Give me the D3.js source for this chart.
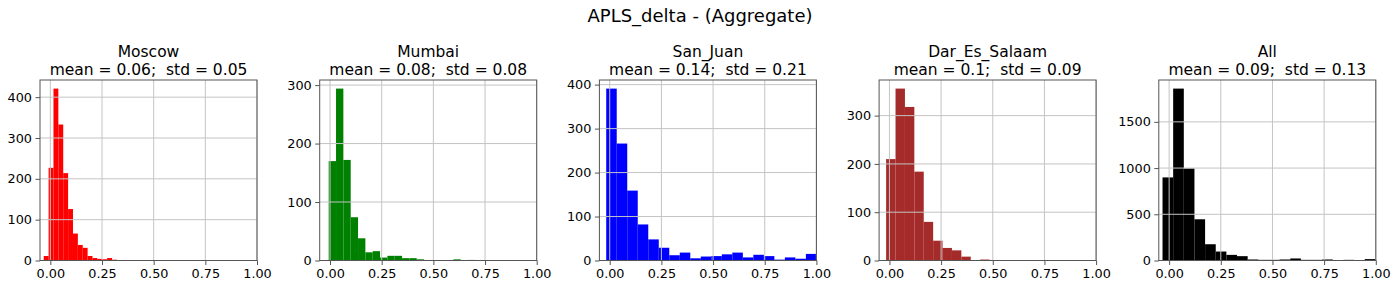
<!DOCTYPE html>
<html>
<head>
<meta charset="utf-8">
<script src="https://cdn.jsdelivr.net/npm/d3@7"></script>
<style>
  html, body { margin: 0; padding: 0; background: #fff; }
  svg { display: block; font-family: "DejaVu Sans", sans-serif; }
</style>
</head>
<body>
<script>
// ---------------- data ----------------
const suptitle = "APLS_delta - (Aggregate)";
const cities = ["Moscow", "Mumbai", "San_Juan", "Dar_Es_Salaam", "All"];
const means = ["0.06", "0.08", "0.14", "0.1", "0.09"];
const stds  = ["0.05", "0.08", "0.21", "0.09", "0.13"];

// histogram bins: first edge and bin width (20 bins each)
const binStart = [-0.032, -0.0065, -0.017, -0.016, -0.032];
const binWidth = [0.0236, 0.0355, 0.05085, 0.0455, 0.0515];

const countsMoscow = [11, 227, 421, 333, 214, 126, 66, 38, 31, 11, 6, 4, 3, 6, 2, 0, 1, 0, 0, 1];
const countsMumbai = [170, 294, 172, 74, 38, 14, 16, 5, 8, 8, 4, 4, 2, 0, 0, 0, 0, 2, 0, 1];
const countsSanJuan = [391, 266, 159, 82, 48, 29, 12, 18, 5, 9, 10, 14, 18, 7, 13, 10, 2, 7, 4, 15];
const countsDar = [210, 356, 318, 184, 80, 41, 26, 21, 8, 1, 2, 0, 0, 1, 0, 0, 0, 0, 1, 1];
const countsAll = [899, 1860, 996, 446, 176, 97, 61, 47, 11, 7, 7, 11, 22, 7, 7, 11, 3, 7, 4, 15];
const counts = [countsMoscow, countsMumbai, countsSanJuan, countsDar, countsAll];

const xTicks = [0, 0.25, 0.5, 0.75, 1.0];
const xDomain = [-0.05, 1.0];
const yTicks = [
  [0, 100, 200, 300, 400],
  [0, 100, 200, 300],
  [0, 100, 200, 300, 400],
  [0, 100, 200, 300],
  [0, 500, 1000, 1500]
];

// ---------------- style ----------------
const colors = ["#ff0000", "#008000", "#0000ff", "#a52a2a", "#000000"];
const W = 1400, H = 286;
const axLeft0 = 40, axStep = 279.7, axW = 217, axTop = 80, axBottom = 260.5;
const tickFont = 12.8, titleFont = 15.5, supFont = 18;
const spineColor = "#555", gridColor = "#c4c4c4";

const svg = d3.select("body").append("svg").attr("width", W).attr("height", H);

svg.append("text")
  .attr("x", W / 2).attr("y", 22)
  .attr("text-anchor", "middle")
  .attr("font-size", supFont)
  .attr("fill", "#000")
  .text(suptitle);

cities.forEach((city, i) => {
  const left = axLeft0 + i * axStep;
  const data = counts[i].map((c, k) => ({
    x0: binStart[i] + k * binWidth[i],
    x1: binStart[i] + (k + 1) * binWidth[i],
    c
  }));
  const x = d3.scaleLinear().domain(xDomain).range([left, left + axW]);
  const y = d3.scaleLinear().domain([0, d3.max(counts[i]) * 1.05]).range([axBottom, axTop]);

  const g = svg.append("g");

  // bars
  g.selectAll("rect.bar").data(data).join("rect")
    .attr("class", "bar")
    .attr("x", d => x(d.x0))
    .attr("width", d => x(d.x1) - x(d.x0))
    .attr("y", d => y(d.c))
    .attr("height", d => y(0) - y(d.c))
    .attr("fill", colors[i]);

  // grid (drawn over bars like matplotlib's default)
  g.selectAll("line.vg").data(xTicks).join("line")
    .attr("class", "vg")
    .attr("x1", d => x(d)).attr("x2", d => x(d))
    .attr("y1", axTop).attr("y2", axBottom)
    .attr("stroke", gridColor).attr("stroke-width", 1);
  g.selectAll("line.hg").data(yTicks[i]).join("line")
    .attr("class", "hg")
    .attr("x1", left).attr("x2", left + axW)
    .attr("y1", d => y(d)).attr("y2", d => y(d))
    .attr("stroke", gridColor).attr("stroke-width", 1);

  // axes
  const xAxis = d3.axisBottom(x).tickValues(xTicks).tickFormat(d3.format(".2f"))
    .tickSize(4.5).tickPadding(3.5);
  const yAxis = d3.axisLeft(y).tickValues(yTicks[i]).tickFormat(d3.format("d"))
    .tickSize(4.5).tickPadding(3.5);

  const gx = g.append("g").attr("transform", `translate(0,${axBottom})`).call(xAxis);
  const gy = g.append("g").attr("transform", `translate(${left},0)`).call(yAxis);
  [gx, gy].forEach(a => {
    a.select(".domain").remove();
    a.selectAll(".tick line").attr("stroke", spineColor).attr("stroke-width", 1);
    a.selectAll(".tick text").attr("font-size", tickFont).attr("fill", "#000")
      .attr("font-family", "DejaVu Sans, sans-serif");
  });

  // spines
  g.append("rect")
    .attr("x", left).attr("y", axTop)
    .attr("width", axW).attr("height", axBottom - axTop)
    .attr("fill", "none").attr("stroke", spineColor).attr("stroke-width", 1);

  // titles
  const cx = left + axW / 2;
  g.append("text").attr("x", cx).attr("y", 57)
    .attr("text-anchor", "middle").attr("font-size", titleFont).attr("fill", "#000")
    .text(city);
  g.append("text").attr("x", cx).attr("y", 75)
    .attr("text-anchor", "middle").attr("font-size", titleFont).attr("fill", "#000")
    .attr("xml:space", "preserve").style("white-space", "pre")
    .text(`mean = ${means[i]};  std = ${stds[i]}`);
});
</script>
</body>
</html>
